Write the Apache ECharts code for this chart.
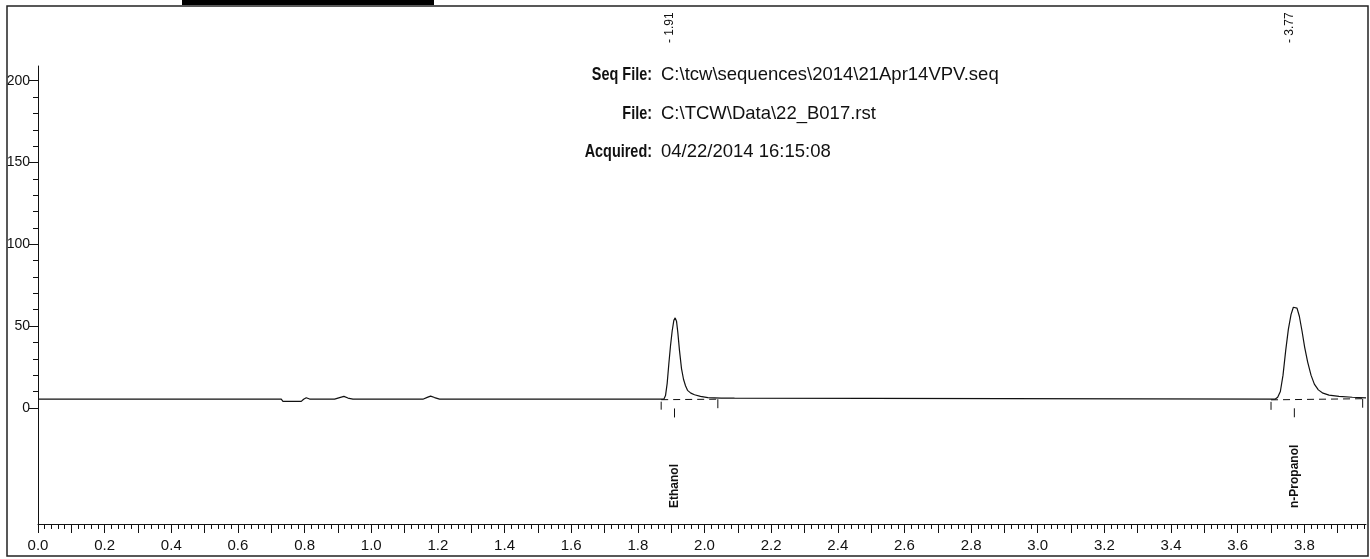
<!DOCTYPE html>
<html>
<head>
<meta charset="utf-8">
<script src="https://cdn.jsdelivr.net/npm/echarts@6/dist/echarts.min.js"></script>
<style>
  html, body { margin: 0; padding: 0; background: #fff; }
  #chart { width: 1370px; height: 559px; }
</style>
</head>
<body>
<div id="chart"></div>
<script>
// Detector trace: retention time (min) and signal (mV)
const traceTime = [
  0, 0.73, 0.735, 0.79, 0.797, 0.805, 0.815, 0.89, 0.905, 0.918, 0.93, 0.945,
  1.155, 1.168, 1.178, 1.19, 1.205,
  1.878, 1.883, 1.888, 1.893, 1.898, 1.903, 1.908, 1.912, 1.916, 1.920, 1.925,
  1.931, 1.937, 1.943, 1.949, 1.959, 1.970, 1.988, 2.01, 2.05, 2.09, 2.095,
  3.712, 3.720, 3.728, 3.736, 3.744, 3.752, 3.760, 3.767, 3.772, 3.778, 3.785,
  3.793, 3.801, 3.810, 3.820, 3.830, 3.842, 3.856, 3.874, 3.904, 3.944, 3.985
];
const traceSignal = [
  5.3, 5.3, 4.0, 4.0, 5.3, 6.2, 5.4, 5.3, 6.3, 7.0, 6.0, 5.3,
  5.3, 6.4, 7.2, 6.3, 5.3,
  5.3, 7.5, 15, 27, 38, 47, 53.5, 55, 53, 46, 35,
  24, 17.5, 13.5, 10.7, 9, 8, 7, 6.3, 6.0, 5.9, 5.3,
  5.3, 6.5, 10, 20, 35, 48, 57, 61.5, 62.3, 61, 56,
  47, 37, 28, 20, 14.5, 11, 9, 7.8, 7, 6.5, 6.1
];

// Identified peaks with integration limits and baseline levels (mV)
const peakNames = ['Ethanol', 'n-Propanol'];
const peakTimes = [1.91, 3.77];
const peakStart = [1.87, 3.70];
const peakEnd = [2.04, 3.975];
const peakBaseStart = [5.0, 4.9];
const peakBaseEnd = [5.3, 5.6];

// Axis tick labels
const xLabelValues = [0.0, 0.2, 0.4, 0.6, 0.8, 1.0, 1.2, 1.4, 1.6, 1.8, 2.0, 2.2, 2.4, 2.6, 2.8, 3.0, 3.2, 3.4, 3.6, 3.8];
const yLabelValues = [0, 50, 100, 150, 200];

// Run header
const headerLabels = ['Seq File:', 'File:', 'Acquired:'];
const headerValues = ['C:\\tcw\\sequences\\2014\\21Apr14VPV.seq', 'C:\\TCW\\Data\\22_B017.rst', '04/22/2014 16:15:08'];

const X_MIN = 0, X_MAX = 3.985;
const Y_MIN = -71, Y_MAX = 209;

function steps(from, to, step) {
  const out = [];
  const n = Math.round((to - from) / step);
  for (let i = 0; i <= n; i++) out.push(Math.round((from + i * step) * 1000) / 1000);
  return out;
}
const xMajorTicks = steps(0, 3.9, 0.1);
const xMinorTicks = steps(0, 3.98, 0.02).filter(v => Math.abs(v * 10 - Math.round(v * 10)) > 1e-6);
const yMinorTicks = steps(0, 200, 10).filter(v => v % 50 !== 0);

const trace = traceTime.map((t, i) => [t, traceSignal[i]]);
const peakItems = peakNames.map((n, i) => [peakTimes[i], peakStart[i], peakEnd[i], i, peakBaseStart[i], peakBaseEnd[i]]);

const ink = '#111';
const chart = echarts.init(document.getElementById('chart'), null, { renderer: 'canvas' });

// Header block: bold condensed captions right-aligned, values to the right
const headerGraphics = [];
headerLabels.forEach((lab, i) => {
  const y = 75 + i * 38.5;
  headerGraphics.push({
    type: 'text', x: 652, y: y, scaleX: 0.78, originX: 0, originY: 0,
    style: { text: lab, fill: ink, font: 'bold 18.5px "Liberation Sans", Arial, sans-serif', align: 'right', verticalAlign: 'middle' }
  });
  headerGraphics.push({
    type: 'text', x: 661, y: y,
    style: { text: headerValues[i], fill: ink, font: '18.5px "Liberation Sans", Arial, sans-serif', align: 'left', verticalAlign: 'middle' }
  });
});

chart.setOption({
  animation: false,
  backgroundColor: '#fff',
  grid: { left: 38, right: 4, top: 66, bottom: 35, containLabel: false },
  xAxis: [
    {
      type: 'value', min: X_MIN, max: X_MAX, position: 'bottom',
      axisLine: { show: true, onZero: false, lineStyle: { color: ink, width: 1 } },
      axisTick: { show: true, length: 9, customValues: xMajorTicks, lineStyle: { color: ink, width: 1 } },
      axisLabel: {
        show: true, customValues: xLabelValues, margin: 14, color: ink,
        fontFamily: '"Liberation Sans", Arial, sans-serif', fontSize: 15,
        formatter: v => v.toFixed(1)
      },
      splitLine: { show: false }
    },
    {
      type: 'value', min: X_MIN, max: X_MAX, position: 'bottom', gridIndex: 0,
      axisLine: { show: false, onZero: false },
      axisTick: { show: true, length: 5, customValues: xMinorTicks, lineStyle: { color: ink, width: 1 } },
      axisLabel: { show: false },
      splitLine: { show: false }
    }
  ],
  yAxis: [
    {
      type: 'value', min: Y_MIN, max: Y_MAX, position: 'left',
      axisLine: { show: true, onZero: false, lineStyle: { color: ink, width: 1 } },
      axisTick: { show: true, length: 9, customValues: yLabelValues, lineStyle: { color: ink, width: 1 } },
      axisLabel: {
        show: true, customValues: yLabelValues, margin: 8, color: ink,
        fontFamily: '"Liberation Sans", Arial, sans-serif', fontSize: 14
      },
      splitLine: { show: false }
    },
    {
      type: 'value', min: Y_MIN, max: Y_MAX, position: 'left', offset: 0,
      axisLine: { show: false, onZero: false },
      axisTick: { show: true, length: 5, customValues: yMinorTicks, lineStyle: { color: ink, width: 1 } },
      axisLabel: { show: false },
      splitLine: { show: false }
    }
  ],
  series: [
    {
      name: 'Signal', type: 'line', xAxisIndex: 0, yAxisIndex: 0,
      data: trace, showSymbol: false, symbol: 'none', smooth: false,
      lineStyle: { color: ink, width: 1.2 }
    },
    {
      name: 'Peaks', type: 'custom', xAxisIndex: 0, yAxisIndex: 0, clip: false,
      data: peakItems,
      encode: { x: [0, 1, 2], y: [4, 5] },
      renderItem: function (params, api) {
        const idx = api.value(3);
        const rt = api.value(0);
        const s = api.coord([api.value(1), api.value(4)]);
        const e = api.coord([api.value(2), api.value(5)]);
        const apexBase = api.coord([rt, (api.value(4) + api.value(5)) / 2]);
        const lineStyle = { stroke: ink, lineWidth: 1 };
        return {
          type: 'group',
          children: [
            { type: 'line', shape: { x1: s[0], y1: s[1], x2: e[0], y2: e[1] }, style: { stroke: ink, lineWidth: 1, lineDash: [7, 5] } },
            { type: 'line', shape: { x1: s[0], y1: s[1] + 2, x2: s[0], y2: s[1] + 10 }, style: lineStyle },
            { type: 'line', shape: { x1: e[0], y1: e[1], x2: e[0], y2: e[1] + 9 }, style: lineStyle },
            { type: 'line', shape: { x1: apexBase[0], y1: apexBase[1] + 9, x2: apexBase[0], y2: apexBase[1] + 18 }, style: lineStyle },
            {
              type: 'text', x: apexBase[0] + 1, y: 43, rotation: Math.PI / 2,
              style: { text: '- ' + rt.toFixed(2), fill: ink, font: '12px "Liberation Sans", Arial, sans-serif', align: 'left', verticalAlign: 'bottom' }
            },
            {
              type: 'text', x: apexBase[0], y: 508, rotation: Math.PI / 2,
              style: { text: peakNames[idx], fill: ink, font: 'bold 12px "Liberation Sans", Arial, sans-serif', align: 'left', verticalAlign: 'middle' }
            }
          ]
        };
      }
    }
  ],
  graphic: [
    { type: 'rect', shape: { x: 7, y: 6, width: 1361, height: 550 }, style: { fill: 'none', stroke: '#222', lineWidth: 1.5 }, z: 100 },
    { type: 'rect', shape: { x: 182, y: 0, width: 252, height: 5 }, style: { fill: '#000' }, z: 100 }
  ].concat(headerGraphics)
});
</script>
</body>
</html>
